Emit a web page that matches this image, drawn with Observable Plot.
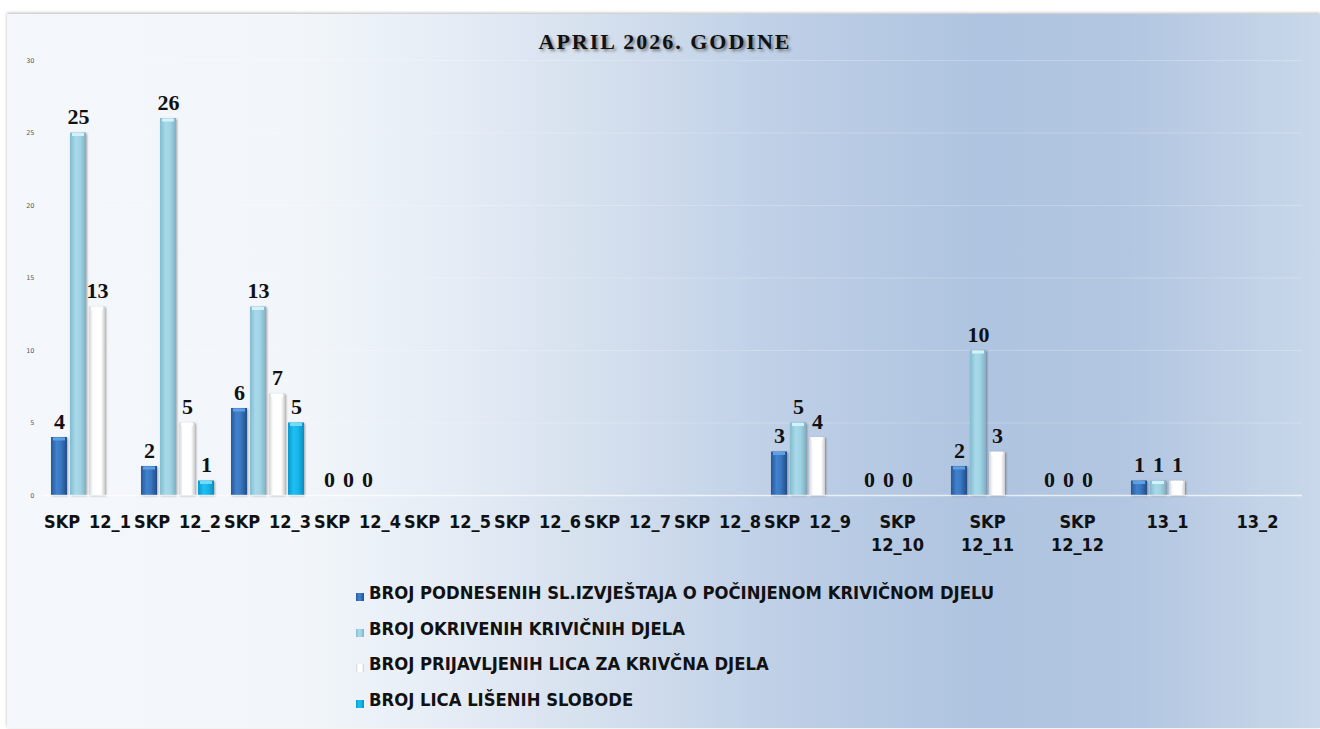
<!DOCTYPE html>
<html>
<head>
<meta charset="utf-8">
<script src="https://cdn.jsdelivr.net/npm/d3@7"></script>
<script src="https://cdn.jsdelivr.net/npm/@observablehq/plot@0.6"></script>
<style>
  html, body { margin: 0; padding: 0; background: #ffffff; width: 1320px; height: 729px; overflow: hidden; }
  #card {
    position: absolute; left: 7px; top: 14px; width: 1313px; height: 714px;
    background: linear-gradient(to right, #f4f7fb 0%, #f2f6fa 22%, #e6edf6 33%, #d5e0ee 45%, #bfd0e7 58%, #afc4e0 74%, #b2c6e1 85%, #c9d8ea 100%);
    box-shadow: 0 -1px 3px rgba(0,0,0,0.28);
  }
  #title {
    position: absolute; left: 0; width: 1330px; top: 29px; text-align: center;
    font-family: "Liberation Serif", "DejaVu Serif", serif; font-weight: bold; font-size: 22px;
    letter-spacing: 2px; color: #111; text-shadow: 2px 2px 3px rgba(0,0,0,0.45);
  }
  #chart { position: absolute; left: 0; top: 0; }
  #legend { position: absolute; left: 356px; top: 583px; }
  .row { height: 35.5px; display: flex; align-items: flex-start; }
  .sw { width: 8px; height: 8px; margin-top: 10px; margin-right: 5px; }
  .lt { font-family: "DejaVu Sans Condensed", "Liberation Sans Narrow", sans-serif; font-weight: bold; font-size: 18.3px; color: #111; line-height: 20px; }
</style>
</head>
<body>
<div id="card"></div>
<div id="title">APRIL 2026. GODINE</div>
<div id="chart"></div>
<div id="legend"></div>
<script>
// ---- data ----
const categories = ["SKP 12_1","SKP 12_2","SKP 12_3","SKP 12_4","SKP 12_5","SKP 12_6","SKP 12_7","SKP 12_8","SKP 12_9","SKP 12_10","SKP 12_11","SKP 12_12","13_1","13_2"];
const tickLabels = ["SKP \u200912_1","SKP \u200912_2","SKP \u200912_3","SKP \u200912_4","SKP \u200912_5","SKP \u200912_6","SKP \u200912_7","SKP \u200912_8","SKP \u200912_9","SKP\n12_10","SKP\n12_11","SKP\n12_12","13_1","13_2"];
const seriesNames = [
  "BROJ PODNESENIH SL.IZVJEŠTAJA O POČINJENOM KRIVIČNOM DJELU",
  "BROJ OKRIVENIH KRIVIČNIH DJELA",
  "BROJ PRIJAVLJENIH LICA ZA KRIVČNA DJELA",
  "BROJ LICA LIŠENIH SLOBODE"
];
const podneseni  = [4, 2, 6, 0, null, null, null, null, 3, 0, 2, 0, 1, null];
const otkriveni  = [25, 26, 13, 0, null, null, null, null, 5, 0, 10, 0, 1, null];
const prijavljeni = [13, 5, 7, 0, null, null, null, null, 4, 0, 3, 0, 1, null];
const liseni     = [null, 1, 5, null, null, null, null, null, null, null, null, null, null, null];
const yTicks = [0, 5, 10, 15, 20, 25, 30];

// ---- styles ----
const gradStops = [
  [["0%","#28579a"],["35%","#4082cc"],["60%","#3a78c2"],["100%","#224c86"]],
  [["0%","#82bccf"],["35%","#a8d9e9"],["65%","#9fd3e4"],["100%","#7cb0c3"]],
  [["0%","#d4d4d4"],["25%","#ffffff"],["75%","#ffffff"],["100%","#cbcbcb"]],
  [["0%","#0a98cf"],["35%","#20bff2"],["65%","#16b4ea"],["100%","#0a8cc0"]]
];
const capColors = ["#5f9fe4", "#d2f2fa", "#ffffff", "#6fdcfb"];

const valueSets = [podneseni, otkriveni, prijavljeni, liseni];
const rows = [];
categories.forEach((c, i) => valueSets.forEach((vals, j) => {
  if (vals[i] != null) rows.push({cat: c, ser: seriesNames[j], v: vals[i], s: j});
}));

const barMarks = [];
seriesNames.forEach((name, j) => {
  const sub = rows.filter(d => d.s === j);
  barMarks.push(Plot.barY(sub, {fx: "cat", x: "ser", y: "v", fill: `url(#bg${j})`,
    imageFilter: "drop-shadow(1.5px 1px 1.2px rgba(0,0,0,0.35))"}));
  barMarks.push(Plot.tickY(sub.filter(d => d.v > 0), {fx: "cat", x: "ser", y: "v", stroke: capColors[j], strokeWidth: 3, dy: 1.5, inset: 2}));
});

const svg = Plot.plot({
  width: 1320,
  height: 560,
  marginTop: 60,
  marginBottom: 65,
  marginLeft: 40,
  marginRight: 16,
  style: {background: "transparent", overflow: "visible"},
  fx: {domain: categories, padding: 0, axis: null},
  x: {domain: seriesNames, paddingInner: 0.18, paddingOuter: 0.4, axis: null},
  y: {domain: [0, 30], axis: null},
  marks: [
    Plot.gridY(yTicks.slice(1), {stroke: "#ffffff", strokeOpacity: 0.22}),
    Plot.axisY(yTicks, {tickSize: 0, tickPadding: 8, fontSize: 6.5, fill: "#595959", fontFamily: "DejaVu Sans, sans-serif", label: null}),
    ...barMarks,
    Plot.ruleY([0], {stroke: "#ffffff", strokeOpacity: 0.7, strokeWidth: 1.5}),
    Plot.text(rows, {fx: "cat", x: "ser", y: "v", text: d => String(d.v), lineAnchor: "bottom", dy: -9,
      fontFamily: "Liberation Serif, DejaVu Serif, serif", fontWeight: "bold", fontSize: 22, fill: "#111"}),
    Plot.text(categories, {fx: d => d, text: tickLabels, frameAnchor: "bottom", lineAnchor: "top", dy: 17,
      lineHeight: 1.25, fontFamily: "DejaVu Sans Condensed, Liberation Sans Narrow, sans-serif", fontWeight: "bold", fontSize: 18, fill: "#111"})
  ]
});

// gradient definitions
const defs = d3.select(svg).insert("defs", ":first-child");
gradStops.forEach((stops, j) => {
  const g = defs.append("linearGradient").attr("id", `bg${j}`).attr("x1", 0).attr("x2", 1).attr("y1", 0).attr("y2", 0);
  stops.forEach(([o, c]) => g.append("stop").attr("offset", o).attr("stop-color", c));
});
document.getElementById("chart").appendChild(svg);

// legend
const legend = d3.select("#legend");
seriesNames.forEach((name, j) => {
  const r = legend.append("div").attr("class", "row");
  r.append("div").attr("class", "sw")
    .style("background", `linear-gradient(to right, ${gradStops[j].map(([o, c]) => c + " " + o).join(", ")})`);
  r.append("div").attr("class", "lt").text(name);
});
</script>
</body>
</html>
